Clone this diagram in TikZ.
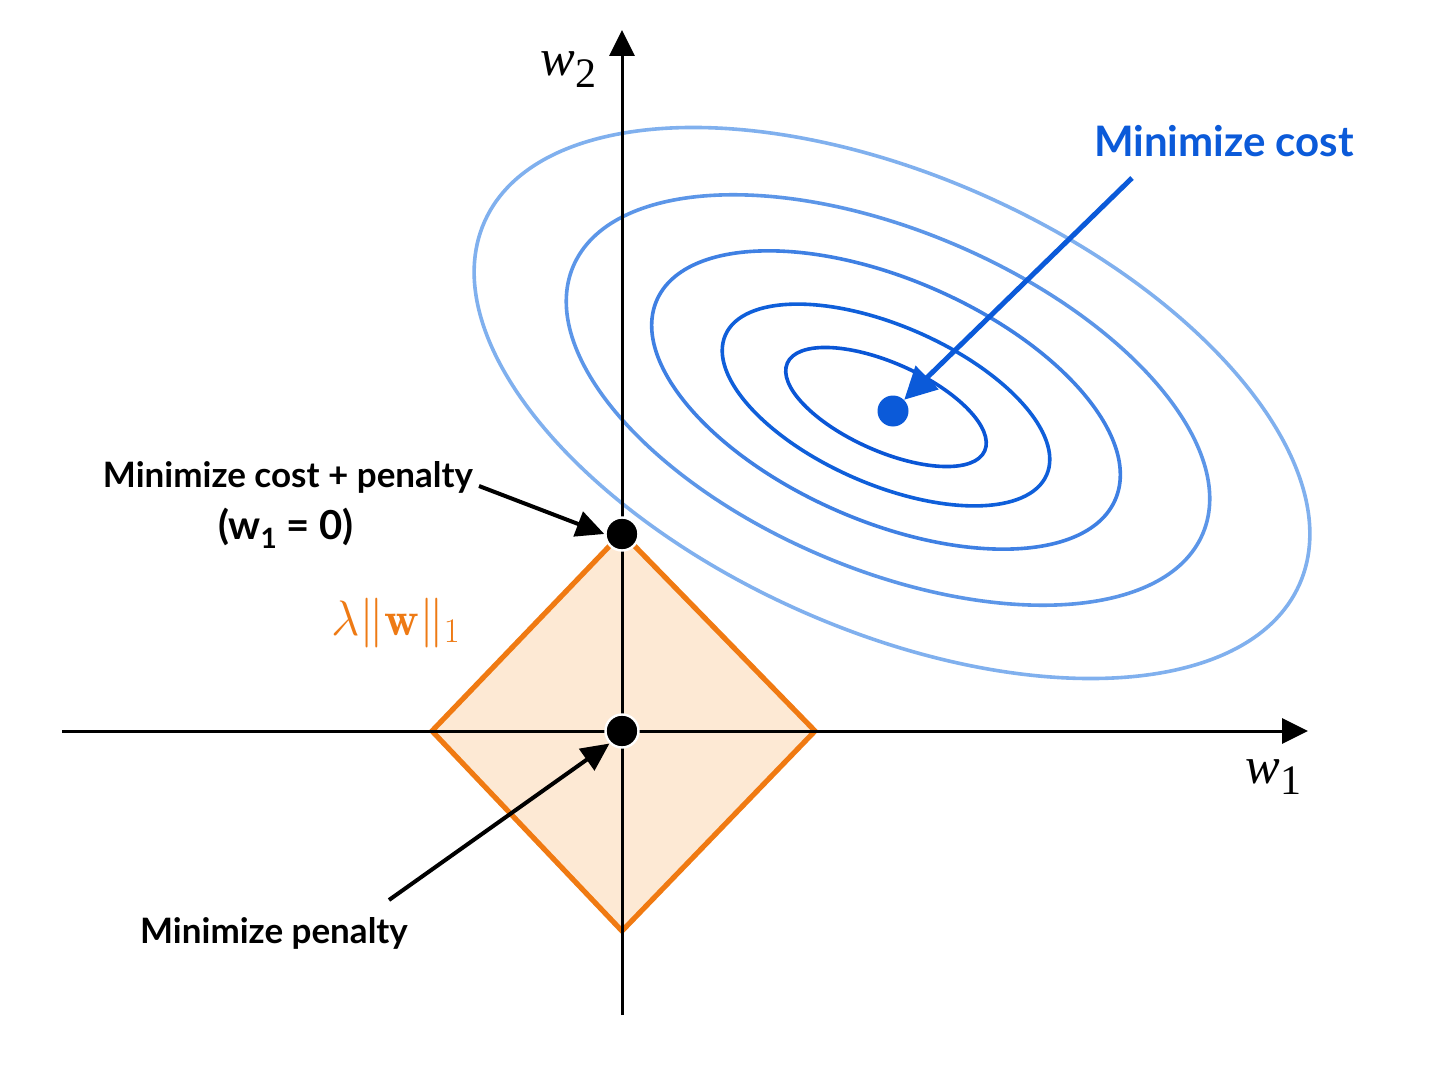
\documentclass[tikz,border=0pt]{standalone}
\usepackage{amsmath}
\usepackage{fontspec}
\setsansfont{Lato}
\newfontfamily\timesf{Liberation Serif}
\usetikzlibrary{arrows.meta}
\definecolor{blueA}{HTML}{0A56D6}
\definecolor{blueB}{HTML}{0F5FDA}
\definecolor{blueC}{HTML}{3F80E3}
\definecolor{blueD}{HTML}{5C96E8}
\definecolor{blueE}{HTML}{80B0EE}
\definecolor{arrowblue}{HTML}{0B5AD9}
\definecolor{orangeline}{HTML}{F07A12}
\definecolor{orangefill}{HTML}{FDE9D4}
\definecolor{orangetext}{HTML}{EE7A14}
\tikzset{
  axis/.style={line width=1.5pt, -{Triangle[length=13pt,width=12.5pt]}},
  contour/.style={line width=1.8pt},
  callout/.style={line width=2pt, -{Triangle[length=14pt,width=13pt]}},
  dot/.style={circle, fill=black, draw=white, line width=1.2pt, minimum size=16.5pt, inner sep=0pt},
  bluedot/.style={circle, fill=arrowblue, minimum size=15.5pt, inner sep=0pt},
  lbl/.style={font=\sffamily\bfseries\fontsize{17.5}{20}\selectfont, inner sep=0pt, anchor=base},
  axlbl/.style={font=\timesf\fontsize{26}{28}\selectfont, inner sep=0pt, anchor=base west},
}
\begin{document}
\begin{tikzpicture}[x=0.5pt,y=-0.5pt]
\useasboundingbox[fill=white] (0,0) rectangle (1448,1086);
% penalty diamond
\filldraw[fill=orangefill, draw=orangeline, line width=2.6pt, line join=miter]
  (432,731) -- (622,533) -- (815,731) -- (622,931) -- cycle;
% contours
\draw[contour, blueE, rotate around={-24:(892,403)}] (892,403) ellipse [x radius=223pt, y radius=113.5pt];
\draw[contour, blueD, rotate around={-23:(888,400)}] (888,400) ellipse [x radius=171pt, y radius=84.6pt];
\draw[contour, blueC, rotate around={-23.5:(886,400)}] (886,400) ellipse [x radius=125pt, y radius=60.5pt];
\draw[contour, blueB, rotate around={-23.5:(886,405)}] (886,405) ellipse [x radius=87.6pt, y radius=39.7pt];
\draw[contour, blueA, rotate around={-24:(886,407)}] (886,407) ellipse [x radius=54pt, y radius=22pt];
% axes
\coordinate (xs) at (62,731);
\coordinate (xe) at (1308,731);
\coordinate (ys) at (622,1015);
\coordinate (ye) at (622,30);
\draw[axis] (xs) -- (xe);
\draw[axis] (ys) -- (ye);
% points
\node[dot] (corner) at (622,534) {};
\node[dot] (origin) at (622,731) {};
\node[bluedot] (opt) at (893,411) {};
% labels
\node[axlbl] (w2) at (540,76) {\itshape w\raisebox{-0.5ex}{\upshape\fontsize{21}{22}\selectfont 2}};
\node[axlbl] (w1) at (1245,783) {\itshape w\raisebox{-0.5ex}{\upshape\fontsize{21}{22}\selectfont 1}};
\node[lbl, text=arrowblue, font=\sffamily\bfseries\fontsize{21}{24}\selectfont] (mc) at (1224,157) {Minimize cost};
\node[lbl] (mcp) at (288,487) {Minimize cost + penalty};
\node[lbl, font=\sffamily\bfseries\fontsize{20}{22}\selectfont] (w10) at (286,539) {(w\raisebox{-0.45ex}{\fontsize{14}{15}\selectfont 1} = 0)};
\node[lbl] (mp) at (274,943) {Minimize penalty};
\node[inner sep=0pt, anchor=base, text=orangetext, font=\fontsize{24}{26}\selectfont] (pen) at (396,635) {$\lambda\|\mathbf{w}\|_1$};
% callouts
\coordinate (mcs) at (1132,178);
\coordinate (mcps) at (479,486);
\coordinate (mps) at (389,900);
\draw[callout, arrowblue, line width=2.5pt, -{Triangle[length=16pt,width=16pt]}] (mcs) -- (opt.north east);
\draw[callout] (mcps) -- (corner.west);
\draw[callout] (mps) -- (origin.south west);
\end{tikzpicture}
\end{document}
